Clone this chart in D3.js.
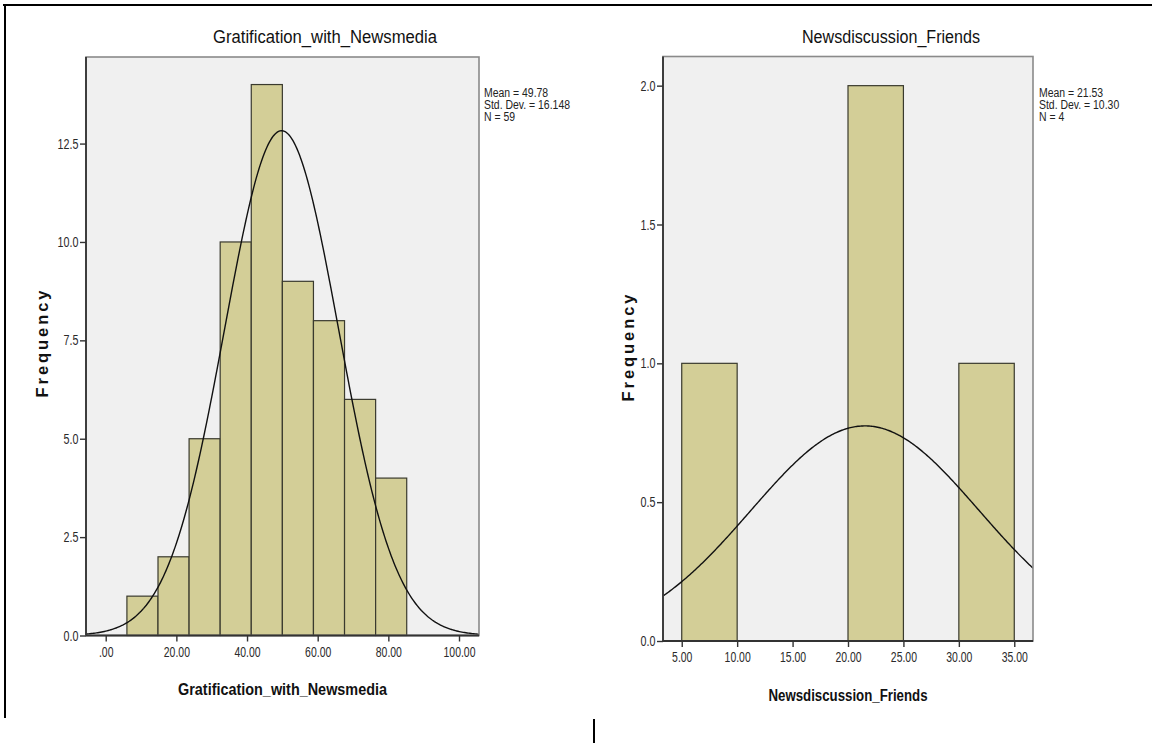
<!DOCTYPE html>
<html>
<head>
<meta charset="utf-8">
<script src="https://cdn.jsdelivr.net/npm/d3@7"></script>
<style>
  html, body { margin: 0; padding: 0; background: #ffffff; }
  svg { display: block; }
  text { font-family: "Liberation Sans", Arial, sans-serif; }
</style>
</head>
<body>
<svg id="chart" width="1152" height="743"></svg>
<script>
// ---- Gratification_with_Newsmedia histogram ----
const gratEdges  = [6.0, 14.8, 23.6, 32.4, 41.2, 50.0, 58.8, 67.6, 76.4, 85.2];
const gratCounts = [1, 2, 5, 10, 14, 9, 8, 6, 4];
const gratMean = 49.78, gratSD = 16.148, gratN = 59;
const gratXTicks = [0, 20, 40, 60, 80, 100];
const gratYTicks = [0, 2.5, 5, 7.5, 10, 12.5];

// ---- Newsdiscussion_Friends histogram ----
const friendEdges  = [5, 10, 15, 20, 25, 30, 35];
const friendCounts = [1, 0, 0, 2, 0, 1];
const friendMean = 21.53, friendSD = 10.30, friendN = 4;
const friendXTicks = [5, 10, 15, 20, 25, 30, 35];
const friendYTicks = [0, 0.5, 1.0, 1.5, 2.0];

const svg = d3.select("#chart");

// page frame lines
svg.append("line").attr("x1", 3).attr("x2", 1152).attr("y1", 5).attr("y2", 5)
  .attr("stroke", "#000").attr("stroke-width", 2);
svg.append("line").attr("x1", 5).attr("x2", 5).attr("y1", 4).attr("y2", 718)
  .attr("stroke", "#000").attr("stroke-width", 2);
svg.append("line").attr("x1", 594).attr("x2", 594).attr("y1", 719).attr("y2", 743)
  .attr("stroke", "#000").attr("stroke-width", 2);

function squeeze(sel, f) {
  sel.each(function () {
    const l = this.getComputedTextLength();
    this.setAttribute("textLength", l * f);
    this.setAttribute("lengthAdjust", "spacingAndGlyphs");
  });
}

function fixWidth(sel, w, adj) {
  sel.attr("textLength", w).attr("lengthAdjust", adj || "spacingAndGlyphs");
}

function panel(cfg) {
  const { edges, counts, mean, sd, n, xTicks, yTicks, xFmt, yFmt,
          left, right, top, bottom, xDomain, yMax, title, titleX, titleW,
          xLabelW, yLabelX, yLabelY, stats, statsX } = cfg;

  const x = d3.scaleLinear().domain(xDomain).range([left, right]);
  const y = d3.scaleLinear().domain([0, yMax]).range([bottom, top]);
  const g = svg.append("g");
  const clipId = "clip" + Math.round(left);

  g.append("clipPath").attr("id", clipId).append("rect")
    .attr("x", left).attr("y", top).attr("width", right - left).attr("height", bottom - top);

  // plot background
  g.append("rect").attr("x", left).attr("y", top)
    .attr("width", right - left).attr("height", bottom - top)
    .attr("fill", "#f0f0f0");

  // histogram bars
  const bins = counts.map((c, i) => ({ x0: edges[i], x1: edges[i + 1], c })).filter(d => d.c > 0);
  g.selectAll("rect.bar").data(bins).join("rect")
    .attr("class", "bar")
    .attr("x", d => x(d.x0)).attr("width", d => x(d.x1) - x(d.x0))
    .attr("y", d => y(d.c)).attr("height", d => y(0) - y(d.c))
    .attr("fill", "#d3ce97").attr("stroke", "#3a3a2e").attr("stroke-width", 1.2);

  // fitted normal curve scaled to the bin width
  const bw = edges[1] - edges[0];
  const dens = v => n * bw * Math.exp(-0.5 * ((v - mean) / sd) ** 2) / (sd * Math.sqrt(2 * Math.PI));
  const xs = d3.range(xDomain[0], xDomain[1] + 0.01, (xDomain[1] - xDomain[0]) / 300);
  g.append("path").datum(xs)
    .attr("clip-path", `url(#${clipId})`)
    .attr("fill", "none").attr("stroke", "#111").attr("stroke-width", 1.4)
    .attr("d", d3.line().x(v => x(v)).y(v => y(dens(v))));

  // plot frame
  g.append("rect").attr("x", left).attr("y", top)
    .attr("width", right - left).attr("height", bottom - top)
    .attr("fill", "none").attr("stroke", "#8a8a8a").attr("stroke-width", 1.6);

  // axes
  const xAxis = g.append("g").attr("transform", `translate(0,${bottom})`)
    .call(d3.axisBottom(x).tickValues(xTicks).tickFormat(xFmt).tickSize(6).tickPadding(5));
  const yAxis = g.append("g").attr("transform", `translate(${left},0)`)
    .call(d3.axisLeft(y).tickValues(yTicks).tickFormat(yFmt).tickSize(6).tickPadding(1.5));
  [xAxis, yAxis].forEach(a => {
    a.select(".domain").attr("stroke", "#333").attr("stroke-width", 1.8);
    a.selectAll(".tick line").attr("stroke", "#333").attr("stroke-width", 1.4);
    a.selectAll(".tick text").attr("fill", "#2a2a2a")
      .style("font-family", "'Liberation Sans', Arial, sans-serif").style("font-size", "14.5px");
  });
  xAxis.select(".domain").attr("d", `M${left},0H${right}`);
  yAxis.select(".domain").attr("d", `M0,${top}V${bottom}`);
  squeeze(xAxis.selectAll(".tick text"), 0.72);
  squeeze(yAxis.selectAll(".tick text"), 0.74);

  // chart title
  g.append("text").attr("x", titleX).attr("y", 43).attr("text-anchor", "middle")
    .attr("fill", "#111").style("font-size", "17.5px").text(title)
    .call(fixWidth, titleW);

  // x-axis title
  g.append("text").attr("x", (left + right) / 2).attr("y", bottom + 59.5)
    .attr("text-anchor", "middle").attr("fill", "#111")
    .style("font-size", "16px").style("font-weight", "bold").text(title)
    .call(fixWidth, xLabelW);

  // y-axis title
  g.append("text").attr("transform", `translate(${yLabelX},${yLabelY}) rotate(-90)`)
    .attr("text-anchor", "middle").attr("fill", "#111")
    .style("font-size", "16.5px").style("font-weight", "bold").text("Frequency")
    .call(fixWidth, 107, "spacing");

  // summary statistics, one line each
  stats.forEach((s, i) => {
    g.append("text").attr("x", statsX).attr("y", 97 + i * 12).attr("fill", "#222")
      .style("font-size", "12px").text(s)
      .call(squeeze, 0.87);
  });
}

panel({
  edges: gratEdges, counts: gratCounts, mean: gratMean, sd: gratSD, n: gratN,
  xTicks: gratXTicks, yTicks: gratYTicks,
  xFmt: d => d === 0 ? ".00" : d.toFixed(2), yFmt: d => d.toFixed(1),
  left: 86, right: 479, top: 57, bottom: 635.5,
  xDomain: [-5.58, 105.66], yMax: 14.70,
  title: "Gratification_with_Newsmedia", titleX: 325, titleW: 224, xLabelW: 209,
  yLabelX: 48, yLabelY: 344,
  stats: [`Mean = ${gratMean.toFixed(2)}`, `Std. Dev. = ${gratSD.toFixed(3)}`, `N = ${gratN}`],
  statsX: 484
});

panel({
  edges: friendEdges, counts: friendCounts, mean: friendMean, sd: friendSD, n: friendN,
  xTicks: friendXTicks, yTicks: friendYTicks,
  xFmt: d => d.toFixed(2), yFmt: d => d.toFixed(1),
  left: 663, right: 1033, top: 56.5, bottom: 641,
  xDomain: [3.31, 36.69], yMax: 2.105,
  title: "Newsdiscussion_Friends", titleX: 891, titleW: 178, xLabelW: 159,
  yLabelX: 634, yLabelY: 348,
  stats: [`Mean = ${friendMean.toFixed(2)}`, `Std. Dev. = ${friendSD.toFixed(2)}`, `N = ${friendN}`],
  statsX: 1039
});
</script>
</body>
</html>
